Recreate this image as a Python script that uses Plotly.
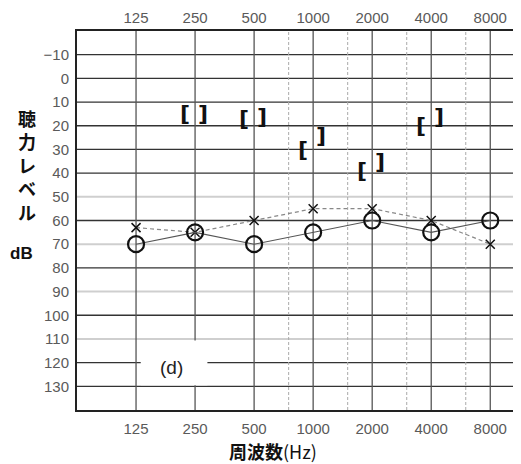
import plotly.graph_objects as go
import math

# ---- data ----
freqs = [125, 250, 500, 1000, 2000, 4000, 8000]
freq_labels = ["125", "250", "500", "1000", "2000", "4000", "8000"]
half_octaves = [750, 1500, 3000, 6000]
circle_db = [70, 65, 70, 65, 60, 65, 60]
cross_db = [63, 65, 60, 55, 55, 60, 70]
bracket_freqs = [250, 500, 1000, 2000, 4000]
left_bracket_db = [15, 17, 30, 39, 20]
right_bracket_db = [15, 16, 24, 35, 16]
db_ticks = [-10, 0, 10, 20, 30, 40, 50, 60, 70, 80, 90, 100, 110, 120, 130]
db_labels = ["−10"] + [str(v) for v in db_ticks[1:]]
dark_levels = [-10, 0, 10, 20, 30, 40, 60, 80, 100, 120, 130]
light_levels = [50, 70, 90, 110]

x_range = [math.log10(62.5), math.log10(11080)]
y_range = [140, -20]

fig = go.Figure()

fig.add_trace(go.Scatter(
    x=freqs, y=cross_db, mode="lines+markers",
    line=dict(color="#888", width=1.2, dash="4px,3px"),
    marker=dict(symbol="x-thin-open", size=9, color="#111", line=dict(color="#111", width=1.5)),
    showlegend=False, hoverinfo="skip"))

fig.add_trace(go.Scatter(
    x=freqs, y=circle_db, mode="lines+markers",
    line=dict(color="#555", width=1.1),
    marker=dict(symbol="circle-open", size=16, color="#111", line=dict(color="#111", width=2.2)),
    showlegend=False, hoverinfo="skip"))

# invisible trace for top axis
fig.add_trace(go.Scatter(x=freqs, y=[None] * len(freqs), xaxis="x2",
                         mode="markers", showlegend=False, hoverinfo="skip"))

shapes = []
for lv in dark_levels:
    shapes.append(dict(type="line", xref="paper", x0=0, x1=1, yref="y", y0=lv, y1=lv,
                       line=dict(color="#333", width=1.3), layer="below"))
for lv in light_levels:
    shapes.append(dict(type="line", xref="paper", x0=0, x1=1, yref="y", y0=lv, y1=lv,
                       line=dict(color="#cfcfcf", width=2), layer="below"))
for f in freqs:
    shapes.append(dict(type="line", xref="x", x0=f, x1=f, yref="paper", y0=0, y1=1,
                       line=dict(color="#555", width=1.3), layer="below"))
for f in half_octaves:
    shapes.append(dict(type="line", xref="x", x0=f, x1=f, yref="paper", y0=0, y1=1,
                       line=dict(color="#aaa", width=1, dash="3px,2px"), layer="below"))
# white box behind the "(d)" label
shapes.append(dict(type="rect", xref="paper", yref="paper", x0=0.1445, x1=0.2957,
                   y0=0.0656, y1=0.1837, fillcolor="white", line=dict(width=0),
                   layer="below"))

annotations = []
bfont = dict(family="DejaVu Sans", size=22, color="#111")
for f, v in zip(bracket_freqs, left_bracket_db):
    annotations.append(dict(x=math.log10(f), y=v, xref="x", yref="y", text="<b>[</b>",
                            showarrow=False, xshift=-10, xanchor="center", yanchor="middle",
                            font=bfont))
for f, v in zip(bracket_freqs, right_bracket_db):
    annotations.append(dict(x=math.log10(f), y=v, xref="x", yref="y", text="<b>]</b>",
                            showarrow=False, xshift=8, xanchor="center", yanchor="middle",
                            font=bfont))

annotations.append(dict(x=0.2144, y=0.1129, xref="paper", yref="paper", text="(d)",
                        xanchor="center", yanchor="middle", showarrow=False,
                        font=dict(family="Liberation Sans", size=19, color="#222")))

cjk = "Noto Sans CJK JP"
annotations.append(dict(xref="paper", yref="paper", x=-0.1129, y=0.6457,
                        xanchor="center", yanchor="middle",
                        text="<b>聴<br>力<br>レ<br>ベ<br>ル</b>", showarrow=False,
                        font=dict(family=cjk, size=18, color="#111"), align="center"))
annotations.append(dict(xref="paper", yref="paper", x=-0.1264, y=0.412,
                        xanchor="center", yanchor="middle",
                        text="<b>dB</b>", showarrow=False,
                        font=dict(family="Liberation Sans", size=17, color="#111")))
annotations.append(dict(xref="paper", yref="paper", x=0.4447, y=-0.1076,
                        xanchor="center", yanchor="middle",
                        text="<b>周波数</b>(Hz)", showarrow=False,
                        font=dict(family=cjk, size=18, color="#111")))

tickfont = dict(family="Liberation Sans", size=15, color="#5a5a5a")

# page body has an 8px margin: figure is sized/offset to compensate
fig.update_layout(
    width=513, height=456,
    margin=dict(l=69, r=1, t=21, b=54),
    paper_bgcolor="white", plot_bgcolor="white",
    xaxis=dict(type="log", range=x_range, tickvals=freqs, ticktext=freq_labels,
               showgrid=False, zeroline=False, showline=True, mirror=True,
               linecolor="#222", linewidth=2, ticks="outside", ticklen=4,
               tickcolor="rgba(0,0,0,0)", tickfont=tickfont),
    xaxis2=dict(type="log", range=x_range, tickvals=freqs, ticktext=freq_labels,
                overlaying="x", side="top", anchor="y", showgrid=False,
                zeroline=False, showline=False, ticks="outside", ticklen=1,
                tickcolor="rgba(0,0,0,0)", tickfont=tickfont),
    yaxis=dict(range=y_range, tickvals=db_ticks, ticktext=db_labels,
               showgrid=False, zeroline=False, showline=True, mirror=True,
               linecolor="#222", linewidth=2, ticks="outside", ticklen=3,
               tickcolor="rgba(0,0,0,0)", tickfont=tickfont),
    shapes=shapes, annotations=annotations,
)

fig.write_html("out.html")
